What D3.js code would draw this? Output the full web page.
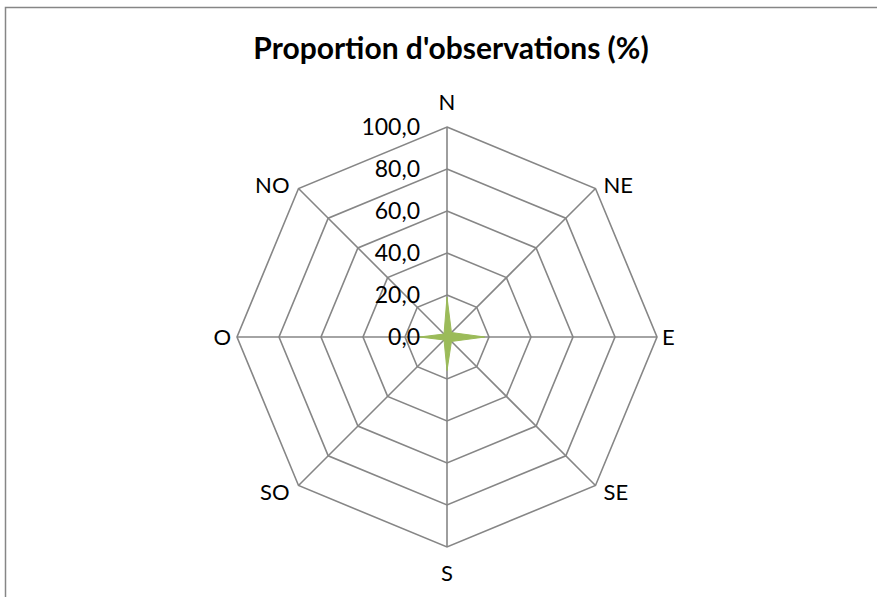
<!DOCTYPE html>
<html>
<head>
<meta charset="utf-8">
<script src="https://cdn.jsdelivr.net/npm/d3@7"></script>
<style>
  html, body { margin: 0; padding: 0; background: #fff; }
  svg { display: block; }
  text { font-family: Lato, "Open Sans", "Noto Sans", sans-serif; fill: #000; }
</style>
</head>
<body>
<svg id="chart" width="877" height="597"></svg>
<script>
// Wind directions (clockwise from north) and share of observations, in %
const directions = ["N", "NE", "E", "SE", "S", "SO", "O", "NO"];
const proportions = [19, 3, 18, 3, 16, 2, 13, 2];
const tickValues = [0, 20, 40, 60, 80, 100];
const tickLabels = ["0,0", "20,0", "40,0", "60,0", "80,0", "100,0"];

const svg = d3.select("#chart");
const W = 877, H = 597;
const cx = 447, cy = 337, R = 210;

// Chart area frame
svg.append("rect")
  .attr("x", 5.5).attr("y", 7.5)
  .attr("width", W + 10).attr("height", H + 10)
  .attr("fill", "#fff").attr("stroke", "#868686").attr("stroke-width", 1.5);

svg.append("text")
  .attr("x", cx + 4).attr("y", 59)
  .attr("text-anchor", "middle")
  .attr("font-size", 30).attr("font-weight", "bold")
  .text("Proportion d'observations (%)");

const r = d3.scaleLinear().domain([0, 100]).range([0, R]);
const angle = d3.scalePoint().domain(directions).range([0, 2 * Math.PI * 7 / 8]);

const g = svg.append("g").attr("transform", `translate(${cx},${cy})`);

const pt = (dir, v) => {
  const a = angle(dir);
  return [Math.sin(a) * r(v), -Math.cos(a) * r(v)];
};

const line = d3.line().curve(d3.curveLinearClosed);

// Octagonal rings
g.selectAll("path.ring")
  .data(tickValues.filter(v => v > 0))
  .join("path")
  .attr("class", "ring")
  .attr("d", v => line(directions.map(d => pt(d, v))))
  .attr("fill", "none")
  .attr("stroke", "#868686").attr("stroke-width", 1.6);

// Spokes
g.selectAll("line.spoke")
  .data(directions)
  .join("line")
  .attr("class", "spoke")
  .attr("x1", 0).attr("y1", 0)
  .attr("x2", d => pt(d, 100)[0])
  .attr("y2", d => pt(d, 100)[1])
  .attr("stroke", "#868686").attr("stroke-width", 1.6);

// Data polygon
g.append("path")
  .attr("d", line(directions.map((d, i) => pt(d, proportions[i]))))
  .attr("fill", "#9BBB59")
  .attr("stroke", "#9BBB59").attr("stroke-width", 1);

// Radial tick labels
g.selectAll("text.tick")
  .data(tickValues)
  .join("text")
  .attr("class", "tick")
  .attr("x", -27)
  .attr("y", v => -r(v))
  .attr("dy", "0.35em")
  .attr("text-anchor", "end")
  .attr("font-size", 23)
  .text((v, i) => tickLabels[i]);

// Direction labels, set just outside the outer ring
g.selectAll("text.dir")
  .data(directions)
  .join("text")
  .attr("class", "dir")
  .each(function (d) {
    const [x, y] = pt(d, 100);
    const s = Math.sin(angle(d)), c = Math.cos(angle(d));
    let tx = x, ty = y, anchor = "middle";
    if (Math.abs(s) < 0.01) {
      ty = y + (c > 0 ? -25 : 26);
    } else if (Math.abs(c) < 0.01) {
      tx = x + (s > 0 ? 5 : -6);
      anchor = s > 0 ? "start" : "end";
    } else {
      tx = x + (s > 0 ? 8 : -9);
      ty = y + (c > 0 ? -3 : 7);
      anchor = s > 0 ? "start" : "end";
    }
    d3.select(this)
      .attr("x", tx).attr("y", ty)
      .attr("dy", "0.35em")
      .attr("text-anchor", anchor);
  })
  .attr("font-size", 22)
  .text(d => d);
</script>
</body>
</html>
